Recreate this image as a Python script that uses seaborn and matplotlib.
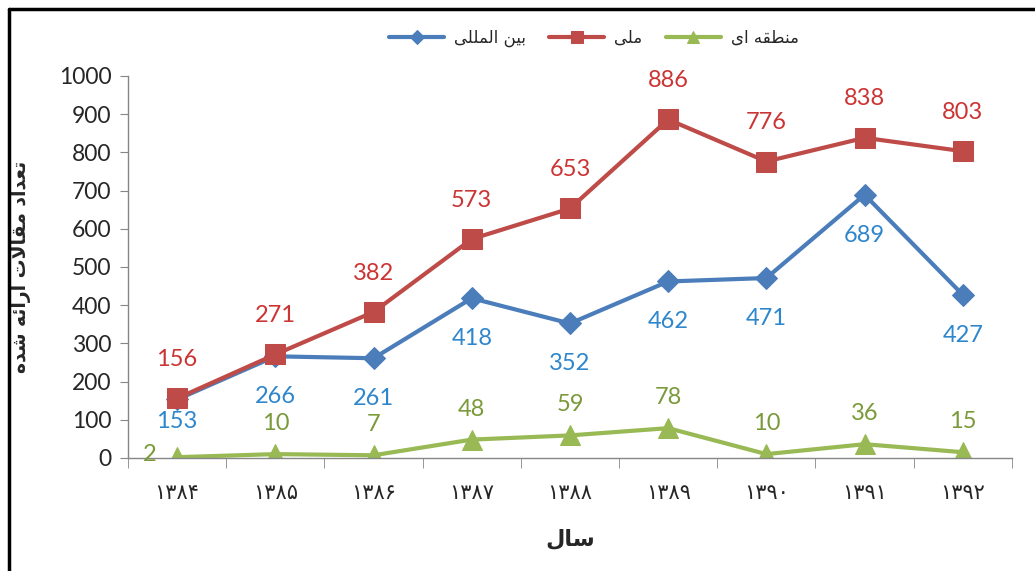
import numpy as np
import matplotlib.pyplot as plt
import seaborn as sns
from matplotlib.lines import Line2D

# داده ها
years = ['\u06f1\u06f3\u06f8\u06f4', '\u06f1\u06f3\u06f8\u06f5', '\u06f1\u06f3\u06f8\u06f6',
         '\u06f1\u06f3\u06f8\u06f7', '\u06f1\u06f3\u06f8\u06f8', '\u06f1\u06f3\u06f8\u06f9',
         '\u06f1\u06f3\u06f9\u06f0', '\u06f1\u06f3\u06f9\u06f1', '\u06f1\u06f3\u06f9\u06f2']
intl = [153, 266, 261, 418, 352, 462, 471, 689, 427]
national = [156, 271, 382, 573, 653, 886, 776, 838, 803]
regional = [2, 10, 7, 48, 59, 78, 10, 36, 15]

# متن فارسی به صورت شکل های نمایشی (ترتیب بصری)
lbl_intl = '\uFEF0\uFEE0\uFEE0\uFEE4\uFEDF\uFE8D \uFEE6\uFEF4\uFE91'      # بین المللی
lbl_nat = '\uFEF0\uFEE0\uFEE3'                                            # ملی
lbl_reg = '\uFEEF\uFE8D \uFEEA\uFED8\uFEC4\uFEE8\uFEE3'                   # منطقه ای
xlab = '\uFEDD\uFE8E\uFEB3'                                               # سال
ylab = ('\uFEE9\uFEAA\uFEB7 \uFEEA\uFE8B\uFE8D\uFEAD\uFE8D '
        '\uFE95\uFEFB\uFE8E\uFED8\uFEE3 \uFEA9\uFE8D\uFEAA\uFECC\uFE97')  # تعداد مقالات ارائه شده

sns.set_style('white')
plt.rcParams['font.family'] = ['Lato', 'DejaVu Sans']

x = np.arange(len(years))

fig = plt.figure(figsize=(10.35, 5.71), dpi=100)
ax = fig.add_axes([0.1237, 0.198, 0.854, 0.669])

sns.lineplot(x=x, y=intl, ax=ax, color='#4A7DBA', lw=3, marker='D', markersize=11,
             markeredgecolor='#4A7DBA', label=lbl_intl)
sns.lineplot(x=x, y=national, ax=ax, color='#BE4B48', lw=3, marker='s', markersize=14,
             markeredgecolor='#BE4B48', label=lbl_nat)
sns.lineplot(x=x, y=regional, ax=ax, color='#98B954', lw=3, marker='^', markersize=14,
             markeredgecolor='#98B954', label=lbl_reg)

# برچسب مقادیر
fs = 17
for i in x:
    ax.annotate(str(national[i]), (i, national[i]), xytext=(0, 28), textcoords='offset points',
                ha='center', va='center', fontsize=fs, color='#CC3333')
    off = -16 if i == 0 else -29
    ax.annotate(str(intl[i]), (i, intl[i]), xytext=(0, off), textcoords='offset points',
                ha='center', va='center', fontsize=fs, color='#2E86CC')
    if i == 0:
        ax.annotate(str(regional[i]), (i, regional[i]), xytext=(-20, 2), textcoords='offset points',
                    ha='center', va='center', fontsize=fs, color='#7A9A3A')
    else:
        ax.annotate(str(regional[i]), (i, regional[i]), xytext=(0, 22), textcoords='offset points',
                    ha='center', va='center', fontsize=fs, color='#7A9A3A')

ax.set_xlim(-0.5, len(years) - 0.5)
ax.set_ylim(0, 1000)
ax.set_yticks(np.arange(0, 1001, 100))
ax.tick_params(axis='y', labelsize=16.5, length=6, color='#868686', direction='out', left=True, pad=6)
ax.set_xticks(x)
ax.set_xticklabels(years, fontsize=15, family='DejaVu Sans')
ax.set_xticks(np.arange(-0.5, len(years), 1), minor=True)
ax.tick_params(axis='x', which='major', length=0, pad=18)
ax.tick_params(axis='x', which='minor', length=7, color='#868686', direction='out', bottom=True)

for s in ['top', 'right']:
    ax.spines[s].set_visible(False)
for s in ['left', 'bottom']:
    ax.spines[s].set_color('#868686')
    ax.spines[s].set_linewidth(1)

ax.set_xlabel(xlab, fontsize=16, fontweight='bold', family='DejaVu Sans', labelpad=18)
ax.set_ylabel(ylab, fontsize=13.5, fontweight='bold', family='DejaVu Sans', labelpad=20)

ax.legend(loc='center', bbox_to_anchor=(0.527, 1.1), ncol=3, frameon=False,
          prop={'family': 'DejaVu Sans', 'size': 12}, handlelength=3.3, markerscale=0.65,
          columnspacing=1.4, handletextpad=0.6)

# قاب تصویر
fig.add_artist(Line2D([0.009, 0.009], [0, 0.985], color='black', lw=2.5, transform=fig.transFigure))
fig.add_artist(Line2D([0.009, 1], [0.985, 0.985], color='black', lw=2.5, transform=fig.transFigure))

fig.savefig('out.png', dpi=100)
